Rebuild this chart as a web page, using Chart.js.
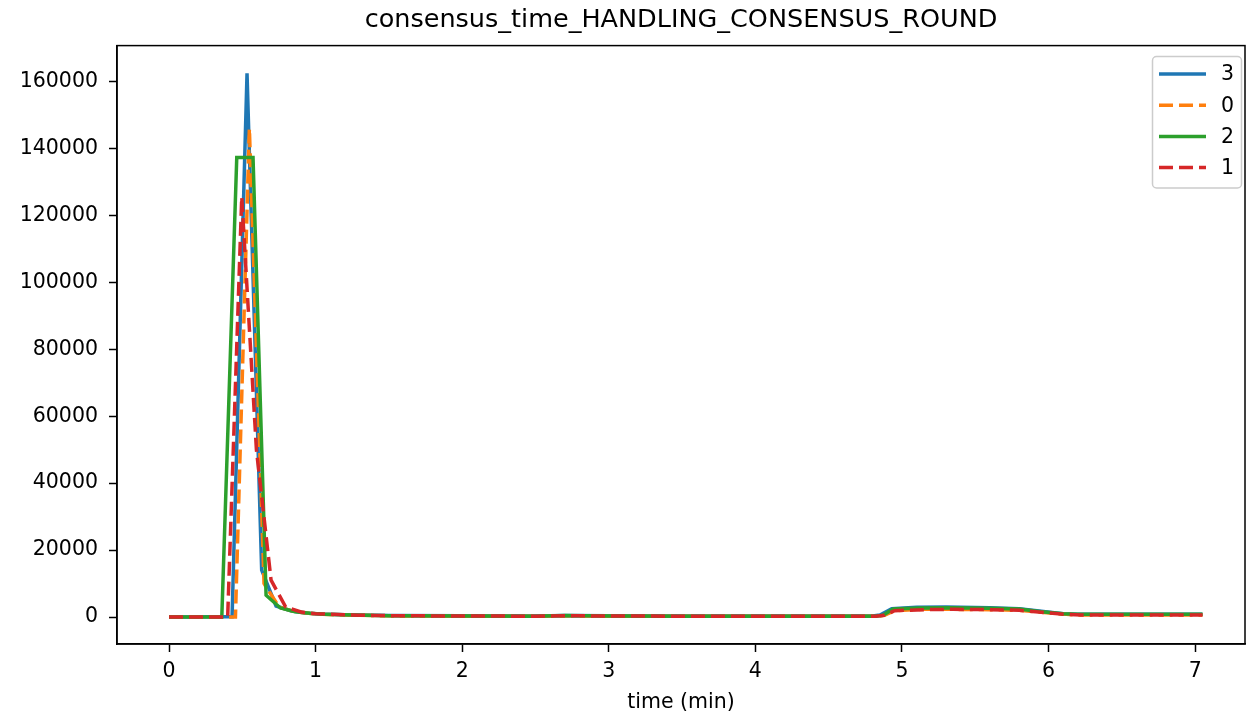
<!DOCTYPE html>
<html>
<head>
<meta charset="utf-8">
<script src="https://cdn.jsdelivr.net/npm/chart.js@4/dist/chart.umd.min.js"></script>
<style>
    body { margin: 0; background: white; }
    #wrap { width: 1246px; height: 717px; }
</style>
</head>
<body>
<div id="wrap"><canvas id="grafico" width="1246" height="717"></canvas></div>
<script>
// dados (tempo em minutos)
var serie_nomes = ['3', '0', '2', '1'];
var serie_cores = ['#1f77b4', '#ff7f0e', '#2ca02c', '#d62728'];

var tempo_3 = [0, 0.1, 0.2, 0.3, 0.43, 0.532, 0.632, 0.73, 0.83, 0.93, 1.03, 1.2, 1.5, 2.0, 2.5, 2.7, 3.0, 3.5, 4.0, 4.5, 4.8, 4.85, 4.93, 5.1, 5.3, 5.6, 5.8, 5.95, 6.1, 6.2, 6.5, 7.05];
var valores_3 = [0, 0, 0, 50, 100, 162500, 14000, 3300, 1900, 1200, 900, 650, 450, 350, 300, 450, 350, 300, 300, 300, 300, 600, 2500, 2900, 3000, 2800, 2500, 1700, 1000, 800, 800, 800];

var tempo_0 = [0, 0.15, 0.25, 0.35, 0.453, 0.548, 0.648, 0.75, 0.85, 0.95, 1.05, 1.25, 1.5, 2.0, 2.5, 2.75, 3.0, 3.5, 4.0, 4.5, 4.82, 4.88, 4.95, 5.15, 5.35, 5.6, 5.8, 5.95, 6.12, 6.22, 6.5, 7.05];
var valores_0 = [0, 0, 0, 0, 0, 146000, 10000, 3000, 1700, 1100, 800, 550, 350, 250, 200, 350, 250, 200, 200, 200, 200, 500, 1900, 2300, 2300, 2200, 2000, 1400, 800, 600, 600, 600];

var tempo_2 = [0, 0.1, 0.2, 0.3, 0.36, 0.462, 0.573, 0.662, 0.76, 0.86, 0.96, 1.06, 1.25, 1.5, 2.0, 2.5, 2.7, 3.0, 3.5, 4.0, 4.5, 4.82, 4.87, 4.94, 5.12, 5.32, 5.6, 5.8, 5.95, 6.1, 6.2, 6.5, 7.05];
var valores_2 = [0, 0, 0, 0, 0, 137300, 137300, 6500, 2700, 1600, 1100, 850, 600, 400, 300, 250, 450, 300, 250, 250, 250, 250, 500, 2400, 2700, 2800, 2600, 2400, 1600, 1000, 800, 800, 800];

var tempo_1 = [0, 0.1, 0.2, 0.3, 0.4, 0.496, 0.596, 0.696, 0.796, 0.9, 1.0, 1.1, 1.3, 1.5, 2.0, 2.5, 2.7, 3.0, 3.5, 4.0, 4.5, 4.82, 4.88, 4.95, 5.15, 5.35, 5.6, 5.8, 5.95, 6.12, 6.22, 6.5, 7.05];
var valores_1 = [0, 0, 0, 0, 0, 125500, 50000, 11000, 3000, 1500, 1000, 800, 550, 400, 300, 250, 400, 300, 250, 250, 250, 250, 500, 1900, 2200, 2300, 2200, 2000, 1400, 800, 600, 600, 600];

var ticks_x = [0, 1, 2, 3, 4, 5, 6, 7];
var ticks_y = [0, 20000, 40000, 60000, 80000, 100000, 120000, 140000, 160000];

function pontos(tempos, valores) {
    var lista = [];
    for (var i = 0; i < tempos.length; i++) {
        lista.push({ x: tempos[i], y: valores[i] });
    }
    return lista;
}

function criarSerie(indice, tempos, valores, tracejado, ordem) {
    return {
        label: serie_nomes[indice],
        data: pontos(tempos, valores),
        borderColor: serie_cores[indice],
        backgroundColor: serie_cores[indice],
        borderWidth: 3.5,
        borderDash: tracejado ? [14, 6] : [],
        borderCapStyle: 'butt',
        pointRadius: 0,
        tension: 0,
        fill: false,
        order: ordem
    };
}

// moldura completa do grafico (estilo matplotlib)
const moldura = {
    id: 'moldura',
    afterDraw(chart) {
        const ctx = chart.ctx;
        const a = chart.chartArea;
        ctx.save();
        ctx.strokeStyle = 'black';
        ctx.lineWidth = 1.5;
        ctx.strokeRect(a.left, a.top, a.right - a.left, a.bottom - a.top);
        ctx.restore();
    }
};

// legenda desenhada no canto superior direito
const legenda = {
    id: 'legenda',
    afterDraw(chart) {
        const ctx = chart.ctx;
        const x0 = 1152.5, y0 = 56.5, w = 89, h = 131.5;
        ctx.save();
        ctx.fillStyle = 'rgba(255,255,255,0.8)';
        ctx.strokeStyle = '#cccccc';
        ctx.lineWidth = 1.5;
        ctx.beginPath();
        ctx.roundRect(x0, y0, w, h, 4);
        ctx.fill();
        ctx.stroke();
        chart.data.datasets.forEach(function (ds, i) {
            const y = 74 + i * 31.2;
            ctx.strokeStyle = ds.borderColor;
            ctx.lineWidth = 3.5;
            ctx.lineCap = 'butt';
            ctx.setLineDash(ds.borderDash);
            ctx.beginPath();
            ctx.moveTo(1159, y);
            ctx.lineTo(1206, y);
            ctx.stroke();
            ctx.setLineDash([]);
            ctx.fillStyle = 'black';
            ctx.font = '20.5px "DejaVu Sans"';
            ctx.textBaseline = 'middle';
            ctx.fillText(ds.label, 1221, y + 1);
        });
        ctx.restore();
    }
};

const ctxGrafico = document.getElementById('grafico');

new Chart(ctxGrafico, {
    type: 'line',
    data: {
        datasets: [
            criarSerie(0, tempo_3, valores_3, false, 4),
            criarSerie(1, tempo_0, valores_0, true, 3),
            criarSerie(2, tempo_2, valores_2, false, 2),
            criarSerie(3, tempo_1, valores_1, true, 1)
        ]
    },
    options: {
        responsive: false,
        animation: false,
        devicePixelRatio: 1,
        layout: { padding: { left: 0, right: 1, top: 0, bottom: 0 } },
        scales: {
            x: {
                type: 'linear',
                min: -0.355,
                max: 7.34,
                afterBuildTicks: function (scale) {
                    scale.ticks = ticks_x.map(function (v) { return { value: v }; });
                },
                afterFit: function (scale) { scale.height = 73; },
                ticks: {
                    color: 'black',
                    padding: 7,
                    maxRotation: 0,
                    font: { family: 'DejaVu Sans', size: 20.5 }
                },
                grid: {
                    drawOnChartArea: false,
                    drawTicks: true,
                    tickLength: 8,
                    tickWidth: 1.5,
                    tickColor: 'black'
                },
                border: { display: true, color: 'black', width: 1.5 },
                title: {
                    display: true,
                    text: 'time (min)',
                    color: 'black',
                    padding: { top: 0, bottom: 2 },
                    font: { family: 'DejaVu Sans', size: 20.5 }
                }
            },
            y: {
                type: 'linear',
                min: -8060,
                max: 170750,
                afterBuildTicks: function (scale) {
                    scale.ticks = ticks_y.map(function (v) { return { value: v }; });
                },
                afterFit: function (scale) { scale.width = 117; },
                ticks: {
                    color: 'black',
                    padding: 11,
                    font: { family: 'DejaVu Sans', size: 20.5 },
                    callback: function (v) { return String(v); }
                },
                grid: {
                    drawOnChartArea: false,
                    drawTicks: true,
                    tickLength: 8,
                    tickWidth: 1.5,
                    tickColor: 'black'
                },
                border: { display: true, color: 'black', width: 1.5 }
            }
        },
        plugins: {
            legend: { display: false },
            tooltip: { enabled: false },
            title: {
                display: true,
                fullSize: false,
                text: 'consensus_time_HANDLING_CONSENSUS_ROUND',
                color: 'black',
                padding: { top: 5, bottom: 10 },
                font: { family: 'DejaVu Sans', size: 25.5, weight: 'normal' }
            }
        }
    },
    plugins: [moldura, legenda]
});
</script>
</body>
</html>
